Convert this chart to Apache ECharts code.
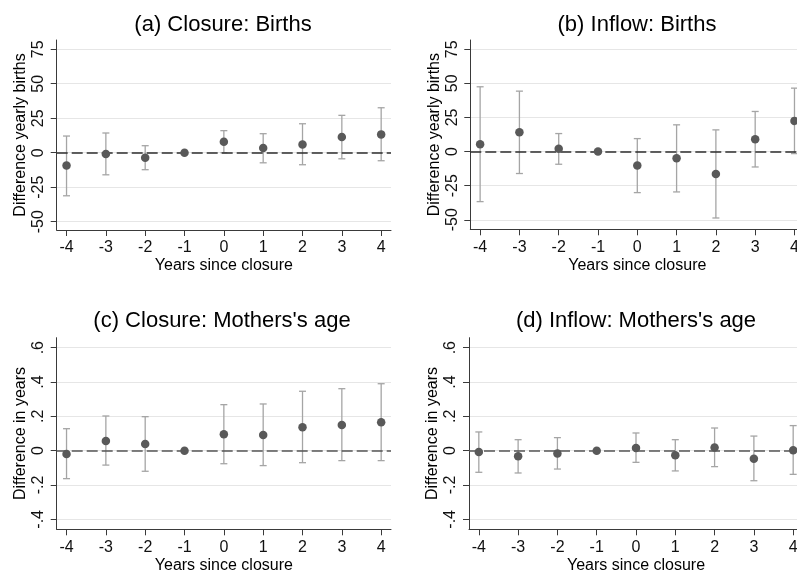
<!DOCTYPE html>
<html>
<head>
<meta charset="utf-8">
<script src="https://cdn.jsdelivr.net/npm/echarts@6/dist/echarts.min.js"></script>
<style>
html,body{margin:0;padding:0;background:#fff;}
#chart{width:797px;height:574px;}
</style>
</head>
<body>
<div id="chart"></div>
<script>
// ---- data ----
const years = [-4, -3, -2, -1, 0, 1, 2, 3, 4];

const aPoint = [-9.2, -1.0, -3.6, 0, 8.0, 3.4, 6.0, 11.4, 13.3];
const aLow   = [-31.2, -16.0, -12.3, null, 0, -7.3, -8.7, -4.4, -5.8];
const aHigh  = [12.1, 14.3, 5.1, null, 16.0, 13.8, 21.0, 27.1, 32.6];

const bPoint = [5.4, 14.2, 2.0, 0, -10.3, -4.9, -16.4, 9.0, 22.5];
const bLow   = [-36.7, -16.1, -9.3, null, -30.1, -29.6, -48.7, -11.3, -1.5];
const bHigh  = [47.5, 44.3, 13.2, null, 9.5, 19.6, 15.9, 29.4, 46.5];

const cPoint = [-0.019, 0.056, 0.039, 0, 0.095, 0.091, 0.136, 0.150, 0.165];
const cLow   = [-0.163, -0.084, -0.120, null, -0.076, -0.087, -0.070, -0.058, -0.058];
const cHigh  = [0.128, 0.202, 0.198, null, 0.268, 0.272, 0.346, 0.361, 0.390];

const dPoint = [-0.008, -0.033, -0.016, 0, 0.016, -0.027, 0.019, -0.047, 0.002];
const dLow   = [-0.126, -0.130, -0.107, null, -0.068, -0.118, -0.093, -0.175, -0.138];
const dHigh  = [0.109, 0.064, 0.076, null, 0.103, 0.064, 0.132, 0.085, 0.146];

const birthTicks = [-50, -25, 0, 25, 50, 75];
const ageTicks = [-0.4, -0.2, 0, 0.2, 0.4, 0.6];

const titles = ['(a) Closure: Births', '(b) Inflow: Births', "(c) Closure: Mothers's age", "(d) Inflow: Mothers's age"];
const yNames = ['Difference yearly births', 'Difference yearly births', 'Difference in years', 'Difference in years'];
const xName = 'Years since closure';

// ---- layout ----
const FONT = 'Liberation Sans, Arial, sans-serif';
const grids = [
  {left: 56.7, top: 40, width: 334.3, height: 190},
  {left: 470.3, top: 40, width: 334, height: 189.3},
  {left: 56.7, top: 337.7, width: 334.3, height: 191.6},
  {left: 469, top: 337.7, width: 334, height: 191.6}
];
const yRanges = [[-56, 81.7], [-57, 81.8], [-0.458, 0.658], [-0.458, 0.658]];
const titlePos = [[223, 14], [637, 14], [222, 310], [636, 310]];
const panels = [
  [aPoint, aLow, aHigh, birthTicks],
  [bPoint, bLow, bHigh, birthTicks],
  [cPoint, cLow, cHigh, ageTicks],
  [dPoint, dLow, dHigh, ageTicks]
];
const dashColors = ['#2e2e2e', '#2e2e2e', '#555555', '#555555'];

function fmtAge(v) {
  if (Math.abs(v) < 1e-9) return '0';
  let s = (Math.round(v * 10) / 10).toString();
  return s.replace('0.', '.');
}

function errRender(params, api) {
  const x = api.value(0), lo = api.value(1), hi = api.value(2);
  const pLo = api.coord([x, lo]);
  const pHi = api.coord([x, hi]);
  const w = 3.5;
  const st = {stroke: '#a5a5a5', lineWidth: 1.3};
  return {
    type: 'group',
    children: [
      {type: 'line', shape: {x1: pLo[0], y1: pLo[1], x2: pHi[0], y2: pHi[1]}, style: st},
      {type: 'line', shape: {x1: pLo[0] - w, y1: pLo[1], x2: pLo[0] + w, y2: pLo[1]}, style: st},
      {type: 'line', shape: {x1: pHi[0] - w, y1: pHi[1], x2: pHi[0] + w, y2: pHi[1]}, style: st}
    ]
  };
}

const option = {
  backgroundColor: '#ffffff',
  animation: false,
  title: [], grid: [], xAxis: [], yAxis: [], series: []
};

panels.forEach((p, i) => {
  const [pt, lo, hi, yt] = p;
  option.title.push({
    text: titles[i], left: titlePos[i][0], top: titlePos[i][1], textAlign: 'center', padding: 0,
    textStyle: {fontFamily: FONT, fontSize: 22, fontWeight: 'normal', color: '#000'}
  });
  option.grid.push(Object.assign({outerBoundsMode: 'none', containLabel: false}, grids[i]));
  option.xAxis.push({
    type: 'value', gridIndex: i, min: -4.25, max: 4.25,
    name: xName, nameLocation: 'middle', nameGap: 28,
    nameTextStyle: {fontFamily: FONT, fontSize: 16, color: '#000'},
    axisLine: {show: true, onZero: false, lineStyle: {color: '#3a3a3a', width: 1}},
    axisTick: {show: true, length: 6, customValues: years, lineStyle: {color: '#3a3a3a'}},
    axisLabel: {customValues: years, margin: 10, fontFamily: FONT, fontSize: 16, color: '#111'},
    splitLine: {show: false}
  });
  option.yAxis.push({
    type: 'value', gridIndex: i, min: yRanges[i][0], max: yRanges[i][1],
    name: yNames[i], nameLocation: 'middle', nameGap: 28,
    nameTextStyle: {fontFamily: FONT, fontSize: 16, color: '#000'},
    axisLine: {show: true, onZero: false, lineStyle: {color: '#3a3a3a', width: 1}},
    axisTick: {show: true, length: 6, customValues: yt, lineStyle: {color: '#3a3a3a'}},
    axisLabel: {customValues: yt, rotate: 90, margin: 10, fontFamily: FONT, fontSize: 16, color: '#111',
      formatter: i >= 2 ? fmtAge : (v => String(v))},
    splitLine: {show: true, lineStyle: {color: '#e6e6e6', width: 1.2}}
  });
  const errData = [];
  years.forEach((x, k) => { if (lo[k] != null) errData.push([x, lo[k], hi[k]]); });
  option.series.push({
    type: 'custom', xAxisIndex: i, yAxisIndex: i, z: 2, silent: true,
    renderItem: errRender, encode: {x: 0, y: [1, 2]}, data: errData, clip: false
  });
  option.series.push({
    type: 'scatter', xAxisIndex: i, yAxisIndex: i, z: 6, silent: true,
    symbol: 'circle', symbolSize: 8.5,
    itemStyle: {color: '#595959', opacity: 1},
    data: years.map((x, k) => [x, pt[k]]),
    markLine: {
      silent: true, symbol: 'none', z: 5, label: {show: false},
      lineStyle: {color: dashColors[i], type: [11, 4], width: 1.5},
      data: [{yAxis: 0}]
    }
  });
});

const chart = echarts.init(document.getElementById('chart'), null, {renderer: 'canvas'});
chart.setOption(option);
</script>
</body>
</html>
